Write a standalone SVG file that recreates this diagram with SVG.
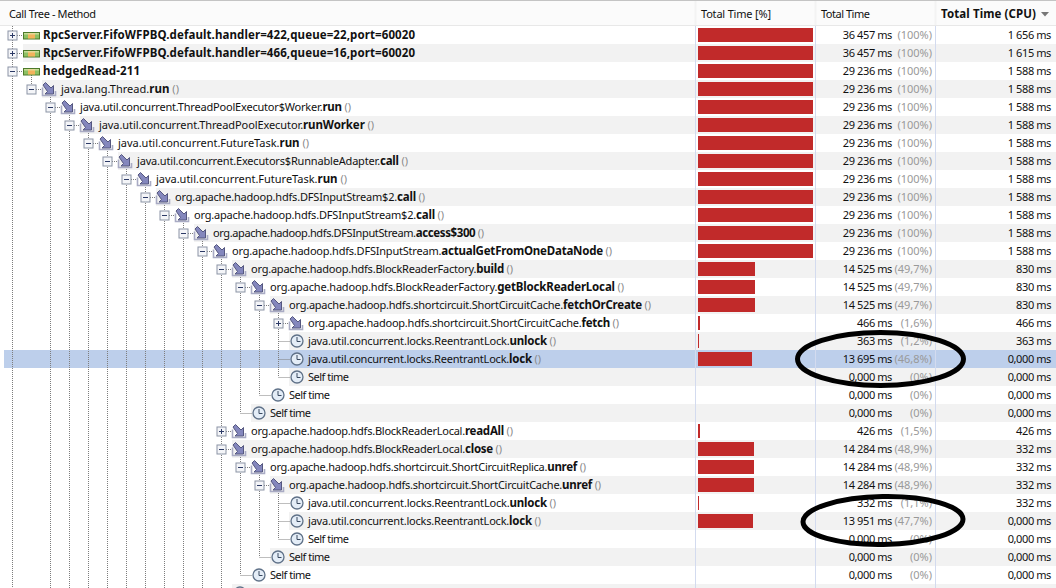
<svg xmlns="http://www.w3.org/2000/svg" xmlns:xlink="http://www.w3.org/1999/xlink" width="1056" height="588" viewBox="0 0 1056 588">
<style>
text{font-family:"Noto Sans","Liberation Sans",Arial,sans-serif;font-size:11px;fill:#111}
.b{font-weight:bold;font-size:11.5px}
.g{fill:#8a8a8a}
.r{text-anchor:end;letter-spacing:-.4px}
.p{text-anchor:end;fill:#999}
.bar{fill:#c12a2a}
.alt{fill:#f2f2f2}
.d{stroke:#7d7d7d;stroke-width:1;stroke-dasharray:1 1;fill:none}
.sep{stroke:#d3dbef;stroke-width:1}
.hs{stroke:#f3f3f3;stroke-width:2}
.ell{fill:none;stroke:#000;stroke-width:5}
</style>
<defs>
<g id="plus"><rect x="-4" y="-4" width="9" height="9" fill="#f4f5f8" stroke="#8b94a5"/><path d="M-2 .5H3M.5 -2V3" stroke="#2c3a66" stroke-width="1"/></g>
<g id="minus"><rect x="-4" y="-4" width="9" height="9" fill="#f4f5f8" stroke="#8b94a5"/><path d="M-2 .5H3" stroke="#2c3a66" stroke-width="1"/></g>
<g id="thread"><rect x=".5" y=".5" width="16" height="6.5" fill="#8cc063" stroke="#4d7a2a"/><rect x="5" y="1" width="7" height="5.5" fill="#f3b35c"/><rect x="1" y="1" width="15" height="1.5" fill="#dfeab0" opacity=".7"/></g>
<g id="m"><path d="M-6.500 -1.500V6.500H6.500V2" fill="none" stroke="#a9abc4" stroke-width="1.600"/><path d="M-6 -4L-3.500 -6.500L2 -1L4.500 -3.500V5H-4L-1.500 2.500Z" fill="#8487bd" stroke="#55577f" stroke-width="1"/></g>
<g id="c"><circle r="6" fill="#e4edf7" stroke="#5f7188" stroke-width="1.300"/><path d="M0 -4V.5H3.500" fill="none" stroke="#3a4a60" stroke-width="1"/></g>
</defs>
<rect width="1056" height="588" fill="#fff"/>
<g id="header">
<rect width="1056" height="25" fill="#fbfbfb"/>
<rect width="1056" height="1" fill="#c4c4c4"/>
<rect y="25" width="1056" height="1" fill="#e8e8e8"/>
<path class="hs" d="M695.500 1V25M815.500 1V25M935.500 1V25"/>
<text x="9" y="18" textLength="87">Call Tree - Method</text>
<text x="701" y="18" textLength="70">Total Time [%]</text>
<text x="821" y="18" textLength="49">Total Time</text>
<text x="941" y="18" class="b" textLength="95">Total Time (CPU)</text>
<path d="M1041 12H1049L1045 16.500Z" fill="#777"/>
</g>
<g id="backgrounds">
<rect class="alt" x="23" y="44" width="1033" height="18"/>
<rect class="alt" x="42" y="80" width="1014" height="18"/>
<rect class="alt" x="80" y="116" width="976" height="18"/>
<rect class="alt" x="118" y="152" width="938" height="18"/>
<rect class="alt" x="156" y="188" width="900" height="18"/>
<rect class="alt" x="194" y="224" width="862" height="18"/>
<rect class="alt" x="232" y="260" width="824" height="18"/>
<rect class="alt" x="270" y="296" width="786" height="18"/>
<rect class="alt" x="289" y="332" width="767" height="18"/>
<rect x="4" y="350" width="1052" height="18" fill="#bdcfeb"/>
<rect class="alt" x="289" y="368" width="767" height="18"/>
<rect class="alt" x="251" y="404" width="805" height="18"/>
<rect class="alt" x="232" y="440" width="824" height="18"/>
<rect class="alt" x="270" y="476" width="786" height="18"/>
<rect class="alt" x="289" y="512" width="767" height="18"/>
<rect class="alt" x="270" y="548" width="786" height="18"/>
<rect class="alt" x="232" y="584" width="824" height="4"/>
<path class="sep" d="M695.500 26V588M815.500 26V588M935.500 26V588"/>
</g>
<g id="connectors">
<path class="d" d="M12.500 26V588M31.500 71V89M50.500 89V588M69.500 107V588M88.500 125V588M107.500 143V588M126.500 161V588M145.500 179V588M164.500 197V588M183.500 215V588M202.500 233V588M221.500 251V588M240.500 269V413M259.500 287V395M278.500 305V377M240.500 449V575M259.500 467V557M278.500 485V539"/>
<path class="d" d="M17 35.500H23M17 53.500H23M17 71.500H23M36 89.500H42M55 107.500H61M74 125.500H80M93 143.500H99M112 161.500H118M131 179.500H137M150 197.500H156M169 215.500H175M188 233.500H194M207 251.500H213M226 269.500H232M245 287.500H251M264 305.500H270M283 323.500H289M278.500 341.500H290M278.500 359.500H290M278.500 377.500H290M259.500 395.500H271M240.500 413.500H252M226 431.500H232M226 449.500H232M245 467.500H251M264 485.500H270M278.500 503.500H290M278.500 521.500H290M278.500 539.500H290M259.500 557.500H271M240.500 575.500H252"/>
</g>
<g id="row-0"><use xlink:href="#plus" x="12" y="35"/><use xlink:href="#thread" x="23" y="32"/><text x="43" y="39" class="b" textLength="372">RpcServer.FifoWFPBQ.default.handler=422,queue=22,port=60020</text><rect class="bar" x="698" y="28" width="115" height="14"/><text x="892" y="39" class="r">36 457 ms</text><text x="932" y="39" class="p">(100%)</text><text x="1051" y="39" class="r">1 656 ms</text></g>
<g id="row-1"><use xlink:href="#plus" x="12" y="53"/><use xlink:href="#thread" x="23" y="50"/><text x="43" y="57" class="b" textLength="372">RpcServer.FifoWFPBQ.default.handler=466,queue=16,port=60020</text><rect class="bar" x="698" y="46" width="115" height="14"/><text x="892" y="57" class="r">36 457 ms</text><text x="932" y="57" class="p">(100%)</text><text x="1051" y="57" class="r">1 615 ms</text></g>
<g id="row-2"><use xlink:href="#minus" x="12" y="71"/><use xlink:href="#thread" x="23" y="68"/><text x="43" y="75" class="b" textLength="97">hedgedRead-211</text><rect class="bar" x="698" y="64" width="115" height="14"/><text x="892" y="75" class="r">29 236 ms</text><text x="932" y="75" class="p">(100%)</text><text x="1051" y="75" class="r">1 588 ms</text></g>
<g id="row-3"><use xlink:href="#minus" x="31" y="89"/><use xlink:href="#m" x="49" y="89"/><text x="61" y="93" textLength="118">java.lang.Thread.<tspan class="b">run</tspan> <tspan class="g">()</tspan></text><rect class="bar" x="698" y="82" width="115" height="14"/><text x="892" y="93" class="r">29 236 ms</text><text x="932" y="93" class="p">(100%)</text><text x="1051" y="93" class="r">1 588 ms</text></g>
<g id="row-4"><use xlink:href="#minus" x="50" y="107"/><use xlink:href="#m" x="68" y="107"/><text x="80" y="111" textLength="271">java.util.concurrent.ThreadPoolExecutor$Worker.<tspan class="b">run</tspan> <tspan class="g">()</tspan></text><rect class="bar" x="698" y="100" width="115" height="14"/><text x="892" y="111" class="r">29 236 ms</text><text x="932" y="111" class="p">(100%)</text><text x="1051" y="111" class="r">1 588 ms</text></g>
<g id="row-5"><use xlink:href="#minus" x="69" y="125"/><use xlink:href="#m" x="87" y="125"/><text x="99" y="129" textLength="275">java.util.concurrent.ThreadPoolExecutor.<tspan class="b">runWorker</tspan> <tspan class="g">()</tspan></text><rect class="bar" x="698" y="118" width="115" height="14"/><text x="892" y="129" class="r">29 236 ms</text><text x="932" y="129" class="p">(100%)</text><text x="1051" y="129" class="r">1 588 ms</text></g>
<g id="row-6"><use xlink:href="#minus" x="88" y="143"/><use xlink:href="#m" x="106" y="143"/><text x="118" y="147" textLength="191">java.util.concurrent.FutureTask.<tspan class="b">run</tspan> <tspan class="g">()</tspan></text><rect class="bar" x="698" y="136" width="115" height="14"/><text x="892" y="147" class="r">29 236 ms</text><text x="932" y="147" class="p">(100%)</text><text x="1051" y="147" class="r">1 588 ms</text></g>
<g id="row-7"><use xlink:href="#minus" x="107" y="161"/><use xlink:href="#m" x="125" y="161"/><text x="137" y="165" textLength="271">java.util.concurrent.Executors$RunnableAdapter.<tspan class="b">call</tspan> <tspan class="g">()</tspan></text><rect class="bar" x="698" y="154" width="115" height="14"/><text x="892" y="165" class="r">29 236 ms</text><text x="932" y="165" class="p">(100%)</text><text x="1051" y="165" class="r">1 588 ms</text></g>
<g id="row-8"><use xlink:href="#minus" x="126" y="179"/><use xlink:href="#m" x="144" y="179"/><text x="156" y="183" textLength="191">java.util.concurrent.FutureTask.<tspan class="b">run</tspan> <tspan class="g">()</tspan></text><rect class="bar" x="698" y="172" width="115" height="14"/><text x="892" y="183" class="r">29 236 ms</text><text x="932" y="183" class="p">(100%)</text><text x="1051" y="183" class="r">1 588 ms</text></g>
<g id="row-9"><use xlink:href="#minus" x="145" y="197"/><use xlink:href="#m" x="163" y="197"/><text x="175" y="201" textLength="250">org.apache.hadoop.hdfs.DFSInputStream$2.<tspan class="b">call</tspan> <tspan class="g">()</tspan></text><rect class="bar" x="698" y="190" width="115" height="14"/><text x="892" y="201" class="r">29 236 ms</text><text x="932" y="201" class="p">(100%)</text><text x="1051" y="201" class="r">1 588 ms</text></g>
<g id="row-10"><use xlink:href="#minus" x="164" y="215"/><use xlink:href="#m" x="182" y="215"/><text x="194" y="219" textLength="250">org.apache.hadoop.hdfs.DFSInputStream$2.<tspan class="b">call</tspan> <tspan class="g">()</tspan></text><rect class="bar" x="698" y="208" width="115" height="14"/><text x="892" y="219" class="r">29 236 ms</text><text x="932" y="219" class="p">(100%)</text><text x="1051" y="219" class="r">1 588 ms</text></g>
<g id="row-11"><use xlink:href="#minus" x="183" y="233"/><use xlink:href="#m" x="201" y="233"/><text x="213" y="237" textLength="271">org.apache.hadoop.hdfs.DFSInputStream.<tspan class="b">access$300</tspan> <tspan class="g">()</tspan></text><rect class="bar" x="698" y="226" width="115" height="14"/><text x="892" y="237" class="r">29 236 ms</text><text x="932" y="237" class="p">(100%)</text><text x="1051" y="237" class="r">1 588 ms</text></g>
<g id="row-12"><use xlink:href="#minus" x="202" y="251"/><use xlink:href="#m" x="220" y="251"/><text x="232" y="255" textLength="380">org.apache.hadoop.hdfs.DFSInputStream.<tspan class="b">actualGetFromOneDataNode</tspan> <tspan class="g">()</tspan></text><rect class="bar" x="698" y="244" width="115" height="14"/><text x="892" y="255" class="r">29 236 ms</text><text x="932" y="255" class="p">(100%)</text><text x="1051" y="255" class="r">1 588 ms</text></g>
<g id="row-13"><use xlink:href="#minus" x="221" y="269"/><use xlink:href="#m" x="239" y="269"/><text x="251" y="273" textLength="262">org.apache.hadoop.hdfs.BlockReaderFactory.<tspan class="b">build</tspan> <tspan class="g">()</tspan></text><rect class="bar" x="698" y="262" width="57" height="14"/><text x="892" y="273" class="r">14 525 ms</text><text x="932" y="273" class="p">(49,7%)</text><text x="1051" y="273" class="r">830 ms</text></g>
<g id="row-14"><use xlink:href="#minus" x="240" y="287"/><use xlink:href="#m" x="258" y="287"/><text x="270" y="291" textLength="354">org.apache.hadoop.hdfs.BlockReaderFactory.<tspan class="b">getBlockReaderLocal</tspan> <tspan class="g">()</tspan></text><rect class="bar" x="698" y="280" width="57" height="14"/><text x="892" y="291" class="r">14 525 ms</text><text x="932" y="291" class="p">(49,7%)</text><text x="1051" y="291" class="r">830 ms</text></g>
<g id="row-15"><use xlink:href="#minus" x="259" y="305"/><use xlink:href="#m" x="277" y="305"/><text x="289" y="309" textLength="362">org.apache.hadoop.hdfs.shortcircuit.ShortCircuitCache.<tspan class="b">fetchOrCreate</tspan> <tspan class="g">()</tspan></text><rect class="bar" x="698" y="298" width="57" height="14"/><text x="892" y="309" class="r">14 525 ms</text><text x="932" y="309" class="p">(49,7%)</text><text x="1051" y="309" class="r">830 ms</text></g>
<g id="row-16"><use xlink:href="#plus" x="278" y="323"/><use xlink:href="#m" x="296" y="323"/><text x="308" y="327" textLength="311">org.apache.hadoop.hdfs.shortcircuit.ShortCircuitCache.<tspan class="b">fetch</tspan> <tspan class="g">()</tspan></text><rect class="bar" x="698" y="316" width="2" height="14"/><text x="892" y="327" class="r">466 ms</text><text x="932" y="327" class="p">(1,6%)</text><text x="1051" y="327" class="r">466 ms</text></g>
<g id="row-17"><use xlink:href="#c" x="297" y="341"/><text x="308" y="345" textLength="248">java.util.concurrent.locks.ReentrantLock.<tspan class="b">unlock</tspan> <tspan class="g">()</tspan></text><rect class="bar" x="698" y="334" width="1" height="14"/><text x="892" y="345" class="r">363 ms</text><text x="932" y="345" class="p">(1,2%)</text><text x="1051" y="345" class="r">363 ms</text></g>
<g id="row-18"><use xlink:href="#c" x="297" y="359"/><text x="308" y="363" textLength="233">java.util.concurrent.locks.ReentrantLock.<tspan class="b">lock</tspan> <tspan class="g">()</tspan></text><rect class="bar" x="698" y="352" width="54" height="14"/><text x="892" y="363" class="r">13 695 ms</text><text x="932" y="363" class="p">(46,8%)</text><text x="1051" y="363" class="r">0,000 ms</text></g>
<g id="row-19"><use xlink:href="#c" x="297" y="377"/><text x="308" y="381" textLength="41">Self time</text><text x="892" y="381" class="r">0,000 ms</text><text x="932" y="381" class="p">(0%)</text><text x="1051" y="381" class="r">0,000 ms</text></g>
<g id="row-20"><use xlink:href="#c" x="278" y="395"/><text x="289" y="399" textLength="41">Self time</text><text x="892" y="399" class="r">0,000 ms</text><text x="932" y="399" class="p">(0%)</text><text x="1051" y="399" class="r">0,000 ms</text></g>
<g id="row-21"><use xlink:href="#c" x="259" y="413"/><text x="270" y="417" textLength="41">Self time</text><text x="892" y="417" class="r">0,000 ms</text><text x="932" y="417" class="p">(0%)</text><text x="1051" y="417" class="r">0,000 ms</text></g>
<g id="row-22"><use xlink:href="#plus" x="221" y="431"/><use xlink:href="#m" x="239" y="431"/><text x="251" y="435" textLength="262">org.apache.hadoop.hdfs.BlockReaderLocal.<tspan class="b">readAll</tspan> <tspan class="g">()</tspan></text><rect class="bar" x="698" y="424" width="2" height="14"/><text x="892" y="435" class="r">426 ms</text><text x="932" y="435" class="p">(1,5%)</text><text x="1051" y="435" class="r">426 ms</text></g>
<g id="row-23"><use xlink:href="#minus" x="221" y="449"/><use xlink:href="#m" x="239" y="449"/><text x="251" y="453" textLength="251">org.apache.hadoop.hdfs.BlockReaderLocal.<tspan class="b">close</tspan> <tspan class="g">()</tspan></text><rect class="bar" x="698" y="442" width="56" height="14"/><text x="892" y="453" class="r">14 284 ms</text><text x="932" y="453" class="p">(48,9%)</text><text x="1051" y="453" class="r">332 ms</text></g>
<g id="row-24"><use xlink:href="#minus" x="240" y="467"/><use xlink:href="#m" x="258" y="467"/><text x="270" y="471" textLength="316">org.apache.hadoop.hdfs.shortcircuit.ShortCircuitReplica.<tspan class="b">unref</tspan> <tspan class="g">()</tspan></text><rect class="bar" x="698" y="460" width="56" height="14"/><text x="892" y="471" class="r">14 284 ms</text><text x="932" y="471" class="p">(48,9%)</text><text x="1051" y="471" class="r">332 ms</text></g>
<g id="row-25"><use xlink:href="#minus" x="259" y="485"/><use xlink:href="#m" x="277" y="485"/><text x="289" y="489" textLength="312">org.apache.hadoop.hdfs.shortcircuit.ShortCircuitCache.<tspan class="b">unref</tspan> <tspan class="g">()</tspan></text><rect class="bar" x="698" y="478" width="56" height="14"/><text x="892" y="489" class="r">14 284 ms</text><text x="932" y="489" class="p">(48,9%)</text><text x="1051" y="489" class="r">332 ms</text></g>
<g id="row-26"><use xlink:href="#c" x="297" y="503"/><text x="308" y="507" textLength="248">java.util.concurrent.locks.ReentrantLock.<tspan class="b">unlock</tspan> <tspan class="g">()</tspan></text><rect class="bar" x="698" y="496" width="1" height="14"/><text x="892" y="507" class="r">332 ms</text><text x="932" y="507" class="p">(1,1%)</text><text x="1051" y="507" class="r">332 ms</text></g>
<g id="row-27"><use xlink:href="#c" x="297" y="521"/><text x="308" y="525" textLength="233">java.util.concurrent.locks.ReentrantLock.<tspan class="b">lock</tspan> <tspan class="g">()</tspan></text><rect class="bar" x="698" y="514" width="55" height="14"/><text x="892" y="525" class="r">13 951 ms</text><text x="932" y="525" class="p">(47,7%)</text><text x="1051" y="525" class="r">0,000 ms</text></g>
<g id="row-28"><use xlink:href="#c" x="297" y="539"/><text x="308" y="543" textLength="41">Self time</text><text x="892" y="543" class="r">0,000 ms</text><text x="932" y="543" class="p">(0%)</text><text x="1051" y="543" class="r">0,000 ms</text></g>
<g id="row-29"><use xlink:href="#c" x="278" y="557"/><text x="289" y="561" textLength="41">Self time</text><text x="892" y="561" class="r">0,000 ms</text><text x="932" y="561" class="p">(0%)</text><text x="1051" y="561" class="r">0,000 ms</text></g>
<g id="row-30"><use xlink:href="#c" x="259" y="575"/><text x="270" y="579" textLength="41">Self time</text><text x="892" y="579" class="r">0,000 ms</text><text x="932" y="579" class="p">(0%)</text><text x="1051" y="579" class="r">0,000 ms</text></g>
<g id="row-31"><use xlink:href="#c" x="240" y="593"/></g>
<g id="annotations">
<ellipse class="ell" cx="880.500" cy="359" rx="83" ry="26.500"/>
<ellipse class="ell" cx="883" cy="520.500" rx="80" ry="24" transform="rotate(-1 883 520.500)"/>
</g>
</svg>
